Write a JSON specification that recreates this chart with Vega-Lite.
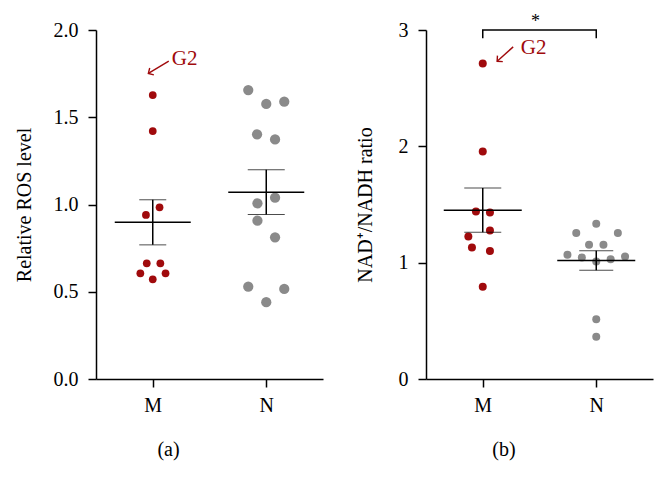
{
  "$schema": "https://vega.github.io/schema/vega-lite/v6.json",
  "padding": {"left": 14, "top": 12, "right": 5, "bottom": 5},
  "background": "white",
  "bounds": "flush",
  "spacing": 103,
  "datasets": {
    "ros": [
      {"group": "M", "value": 1.627, "jitter": 0},
      {"group": "M", "value": 1.421, "jitter": 0},
      {"group": "M", "value": 0.94, "jitter": -0.17},
      {"group": "M", "value": 0.984, "jitter": 0.17},
      {"group": "M", "value": 0.663, "jitter": -0.15},
      {"group": "M", "value": 0.663, "jitter": 0.19},
      {"group": "M", "value": 0.606, "jitter": -0.31},
      {"group": "M", "value": 0.606, "jitter": 0.32},
      {"group": "M", "value": 0.571, "jitter": 0},
      {"group": "N", "value": 1.656, "jitter": -0.45},
      {"group": "N", "value": 1.576, "jitter": 0},
      {"group": "N", "value": 1.589, "jitter": 0.45},
      {"group": "N", "value": 1.402, "jitter": -0.23},
      {"group": "N", "value": 1.373, "jitter": 0.22},
      {"group": "N", "value": 1.007, "jitter": -0.22},
      {"group": "N", "value": 1.039, "jitter": 0.22},
      {"group": "N", "value": 0.907, "jitter": -0.22},
      {"group": "N", "value": 0.812, "jitter": 0.22},
      {"group": "N", "value": 0.529, "jitter": -0.45},
      {"group": "N", "value": 0.516, "jitter": 0.45},
      {"group": "N", "value": 0.44, "jitter": 0}
    ],
    "nad": [
      {"group": "M", "value": 2.711, "jitter": 0},
      {"group": "M", "value": 1.956, "jitter": 0},
      {"group": "M", "value": 1.44, "jitter": -0.17},
      {"group": "M", "value": 1.431, "jitter": 0.18},
      {"group": "M", "value": 1.276, "jitter": 0.18},
      {"group": "M", "value": 1.225, "jitter": -0.36},
      {"group": "M", "value": 1.13, "jitter": -0.27},
      {"group": "M", "value": 1.1, "jitter": 0.18},
      {"group": "M", "value": 0.794, "jitter": 0},
      {"group": "N", "value": 1.334, "jitter": 0},
      {"group": "N", "value": 1.254, "jitter": -0.5},
      {"group": "N", "value": 1.254, "jitter": 0.54},
      {"group": "N", "value": 1.153, "jitter": -0.18},
      {"group": "N", "value": 1.153, "jitter": 0.18},
      {"group": "N", "value": 1.067, "jitter": -0.72},
      {"group": "N", "value": 1.044, "jitter": -0.36},
      {"group": "N", "value": 1.01, "jitter": 0},
      {"group": "N", "value": 1.03, "jitter": 0.36},
      {"group": "N", "value": 1.053, "jitter": 0.72},
      {"group": "N", "value": 0.514, "jitter": 0},
      {"group": "N", "value": 0.364, "jitter": 0}
    ],
    "ros_arrow": [
      {"group": "M", "value": 1.822, "jitter": 0.4, "order": 1},
      {"group": "M", "value": 1.751, "jitter": -0.11, "order": 2}
    ],
    "ros_label": [
      {"group": "M", "value": 1.8, "jitter": 0.475, "label": "G2"}
    ],
    "nad_arrow": [
      {"group": "M", "value": 2.855, "jitter": 0.76, "order": 1},
      {"group": "M", "value": 2.731, "jitter": 0.36, "order": 2}
    ],
    "nad_label": [
      {"group": "M", "value": 2.794, "jitter": 0.95, "label": "G2"}
    ],
    "nad_bracket": [
      {"group": "M", "value": 2.93, "order": 1},
      {"group": "M", "value": 3.0, "order": 2},
      {"group": "N", "value": 3.0, "order": 3},
      {"group": "N", "value": 2.93, "order": 4}
    ],
    "nad_star": [
      {"group": "M", "value": 3.07, "jitter": 1.32, "label": "*"}
    ]
  },
  "hconcat": [
    {
      "width": 227,
      "height": 349,
      "title": {"text": "(a)", "orient": "bottom", "frame": "bounds", "anchor": "middle", "offset": 25, "fontSize": 20, "font": "Liberation Serif", "fontWeight": "normal", "color": "black"},
      "data": {"name": "ros"},
      "encoding": {
        "x": {"field": "group", "type": "nominal", "scale": {"type": "point", "padding": 0.5}, "axis": {"title": null, "labelAngle": 0, "labelPadding": 8}},
        "y": {"field": "value", "type": "quantitative", "scale": {"domain": [0, 2], "nice": false}, "axis": {"title": "Relative ROS level", "values": [0, 0.5, 1, 1.5, 2], "format": ".1f", "titlePadding": 19}}
      },
      "layer": [
        {
          "transform": [{"filter": "datum.group === 'M'"}],
          "mark": {"type": "point", "filled": true, "opacity": 1, "size": 60, "color": "#a00a0c"},
          "encoding": {"xOffset": {"field": "jitter", "type": "quantitative", "scale": {"domain": [-1, 1], "range": [-40, 40]}}}
        },
        {
          "transform": [{"filter": "datum.group === 'N'"}],
          "mark": {"type": "point", "filled": true, "opacity": 1, "size": 105, "color": "#8a8a8a"},
          "encoding": {"xOffset": {"field": "jitter", "type": "quantitative", "scale": {"domain": [-1, 1], "range": [-40, 40]}}}
        },
        {
          "transform": [{"filter": "datum.group === 'M'"}],
          "mark": {"type": "errorbar", "extent": "stderr", "ticks": {"size": 27, "color": "black", "strokeWidth": 1.5}, "rule": {"color": "black", "strokeWidth": 1.5}},
          "encoding": {"y": {"field": "value", "type": "quantitative", "title": "Relative ROS level"}}
        },
        {
          "transform": [{"filter": "datum.group === 'N'"}],
          "mark": {"type": "errorbar", "extent": "stderr", "ticks": {"size": 37, "color": "black", "strokeWidth": 1.5}, "rule": {"color": "black", "strokeWidth": 1.5}},
          "encoding": {"y": {"field": "value", "type": "quantitative", "title": "Relative ROS level"}}
        },
        {
          "mark": {"type": "tick", "size": 76, "thickness": 1.5, "color": "black"},
          "encoding": {"y": {"aggregate": "mean", "field": "value", "type": "quantitative", "title": "Relative ROS level"}}
        },
        {
          "data": {"name": "ros_arrow"},
          "mark": {"type": "line", "color": "#a00a0c", "strokeWidth": 1.4},
          "encoding": {
            "xOffset": {"field": "jitter", "type": "quantitative", "scale": {"domain": [-1, 1], "range": [-40, 40]}},
            "order": {"field": "order", "type": "quantitative"}
          }
        },
        {
          "data": {"name": "ros_arrow"},
          "transform": [{"filter": "datum.order === 2"}],
          "mark": {"type": "point", "shape": "M-1,-1L0,0L-1,1", "filled": false, "opacity": 1, "size": 64, "angle": 149, "color": "#a00a0c", "strokeWidth": 1.4},
          "encoding": {"xOffset": {"field": "jitter", "type": "quantitative", "scale": {"domain": [-1, 1], "range": [-40, 40]}}}
        },
        {
          "data": {"name": "ros_label"},
          "mark": {"type": "text", "align": "left", "baseline": "alphabetic", "font": "Liberation Serif", "fontSize": 21, "color": "#a00a0c"},
          "encoding": {
            "xOffset": {"field": "jitter", "type": "quantitative", "scale": {"domain": [-1, 1], "range": [-40, 40]}},
            "text": {"field": "label"}
          }
        }
      ]
    },
    {
      "width": 227,
      "height": 349,
      "title": {"text": "(b)", "orient": "bottom", "frame": "bounds", "anchor": "middle", "offset": 25, "fontSize": 20, "font": "Liberation Serif", "fontWeight": "normal", "color": "black"},
      "data": {"name": "nad"},
      "encoding": {
        "x": {"field": "group", "type": "nominal", "scale": {"type": "point", "padding": 0.5}, "axis": {"title": null, "labelAngle": 0, "labelPadding": 8}},
        "y": {"field": "value", "type": "quantitative", "scale": {"domain": [0, 3], "nice": false}, "axis": {"title": "NAD⁺/NADH ratio", "values": [0, 1, 2, 3], "format": "d", "titlePadding": 23}}
      },
      "layer": [
        {
          "transform": [{"filter": "datum.group === 'M'"}],
          "mark": {"type": "point", "filled": true, "opacity": 1, "size": 64, "color": "#a00a0c"},
          "encoding": {"xOffset": {"field": "jitter", "type": "quantitative", "scale": {"domain": [-1, 1], "range": [-40, 40]}}}
        },
        {
          "transform": [{"filter": "datum.group === 'N'"}],
          "mark": {"type": "point", "filled": true, "opacity": 1, "size": 64, "color": "#8a8a8a"},
          "encoding": {"xOffset": {"field": "jitter", "type": "quantitative", "scale": {"domain": [-1, 1], "range": [-40, 40]}}}
        },
        {
          "transform": [{"filter": "datum.group === 'M'"}],
          "mark": {"type": "errorbar", "extent": "stderr", "ticks": {"size": 37, "color": "black", "strokeWidth": 1.5}, "rule": {"color": "black", "strokeWidth": 1.5}},
          "encoding": {"y": {"field": "value", "type": "quantitative", "title": "NAD⁺/NADH ratio"}}
        },
        {
          "transform": [{"filter": "datum.group === 'N'"}],
          "mark": {"type": "errorbar", "extent": "stderr", "ticks": {"size": 34, "color": "black", "strokeWidth": 1.5}, "rule": {"color": "black", "strokeWidth": 1.5}},
          "encoding": {"y": {"field": "value", "type": "quantitative", "title": "NAD⁺/NADH ratio"}}
        },
        {
          "mark": {"type": "tick", "size": 78, "thickness": 1.5, "color": "black"},
          "encoding": {"y": {"aggregate": "mean", "field": "value", "type": "quantitative", "title": "NAD⁺/NADH ratio"}}
        },
        {
          "data": {"name": "nad_bracket"},
          "mark": {"type": "line", "color": "black", "strokeWidth": 1.5, "clip": false},
          "encoding": {"order": {"field": "order", "type": "quantitative"}}
        },
        {
          "data": {"name": "nad_star"},
          "mark": {"type": "text", "align": "center", "baseline": "middle", "font": "Liberation Serif", "fontSize": 18, "color": "black", "clip": false},
          "encoding": {
            "xOffset": {"field": "jitter", "type": "quantitative", "scale": {"domain": [-1, 1], "range": [-40, 40]}},
            "text": {"field": "label"}
          }
        },
        {
          "data": {"name": "nad_arrow"},
          "mark": {"type": "line", "color": "#a00a0c", "strokeWidth": 1.4},
          "encoding": {
            "xOffset": {"field": "jitter", "type": "quantitative", "scale": {"domain": [-1, 1], "range": [-40, 40]}},
            "order": {"field": "order", "type": "quantitative"}
          }
        },
        {
          "data": {"name": "nad_arrow"},
          "transform": [{"filter": "datum.order === 2"}],
          "mark": {"type": "point", "shape": "M-1,-1L0,0L-1,1", "filled": false, "opacity": 1, "size": 64, "angle": 138, "color": "#a00a0c", "strokeWidth": 1.4},
          "encoding": {"xOffset": {"field": "jitter", "type": "quantitative", "scale": {"domain": [-1, 1], "range": [-40, 40]}}}
        },
        {
          "data": {"name": "nad_label"},
          "mark": {"type": "text", "align": "left", "baseline": "alphabetic", "font": "Liberation Serif", "fontSize": 21, "color": "#a00a0c"},
          "encoding": {
            "xOffset": {"field": "jitter", "type": "quantitative", "scale": {"domain": [-1, 1], "range": [-40, 40]}},
            "text": {"field": "label"}
          }
        }
      ]
    }
  ],
  "config": {
    "view": {"stroke": null},
    "font": "Liberation Serif",
    "axis": {
      "grid": false,
      "domainColor": "black",
      "domainWidth": 1.5,
      "tickColor": "black",
      "tickWidth": 1.5,
      "tickSize": 8,
      "labelColor": "black",
      "labelFont": "Liberation Serif",
      "labelFontSize": 20,
      "labelPadding": 10,
      "titleColor": "black",
      "titleFont": "Liberation Serif",
      "titleFontSize": 20,
      "titleFontWeight": "normal",
      "titlePadding": 23
    }
  }
}
